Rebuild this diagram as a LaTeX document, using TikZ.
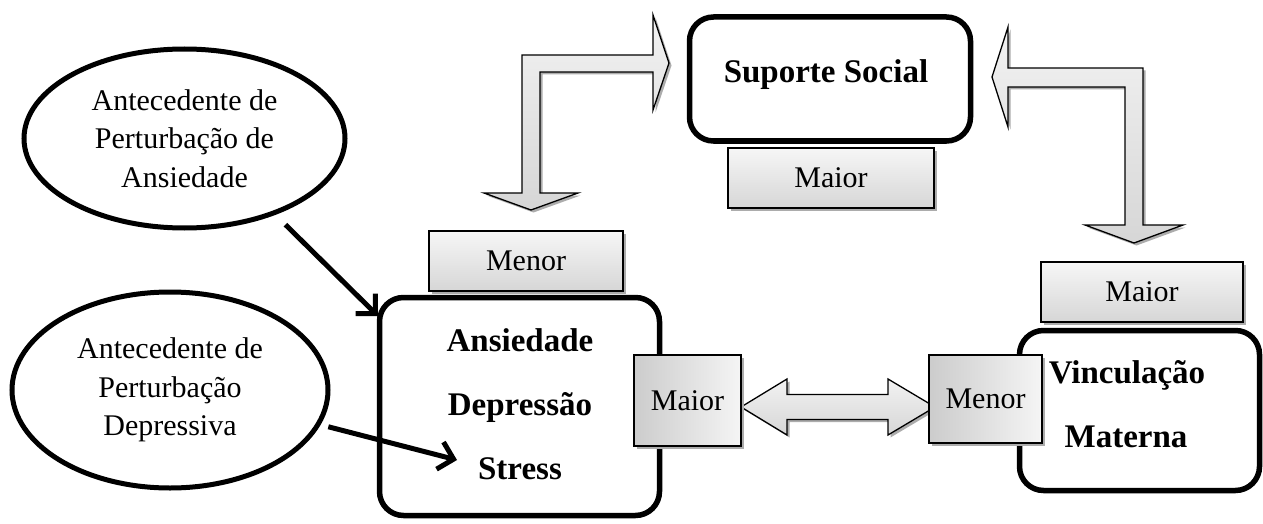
\documentclass[tikz,border=0pt]{standalone}
\usepackage{fontspec}
\setmainfont{Liberation Serif}
\usetikzlibrary{shapes.geometric,shadows,arrows.meta}

\newcommand\lblfont{\fontsize{30}{38.5}\selectfont}
\newcommand\keyfont{\bfseries\fontsize{33}{64}\selectfont}

\begin{document}
\begin{tikzpicture}[x=1pt,y=-1pt,
  bigbox/.style={draw, line width=5.5pt, rounded corners=24pt, fill=white, inner sep=0pt},
  tagshadow/.style={drop shadow={shadow xshift=2.5pt, shadow yshift=-2.5pt, fill=gray!65, opacity=1}},
  tagv/.style={draw, line width=1.3pt, top color=gray!7, bottom color=gray!32, tagshadow, inner sep=0pt, font=\lblfont},
  tagh/.style={draw, line width=1.3pt, left color=gray!40, right color=gray!8, tagshadow, inner sep=0pt, font=\lblfont},
  blockarrow/.style={draw, line width=1.3pt, line join=miter, top color=gray!10, bottom color=gray!32, tagshadow},
  cause/.style={draw, ellipse, line width=5pt, inner sep=0pt, align=center, font=\lblfont},
  keytext/.style={anchor=base, font=\keyfont, inner sep=0pt},
  link/.style={line width=5pt, -{Straight Barb[length=14pt,width=28pt]}}
]
\useasboundingbox (0,0) rectangle (1263,524);

% block arrows between the main factors
\draw[blockarrow] (522,193) -- (522,55) -- (653,55) -- (653,15) -- (669,63)
  -- (653,110) -- (653,72) -- (540,72) -- (540,193) -- (578,193) -- (531,210)
  -- (484,193) -- cycle;
\draw[blockarrow] (1008,68) -- (1143,68) -- (1143,225) -- (1183,225) -- (1134,243)
  -- (1085,225) -- (1125,225) -- (1125,87) -- (1008,87) -- (1008,127) -- (992,77)
  -- (1008,27) -- cycle;
\draw[blockarrow] (741,407) -- (787,379) -- (787,394.5) -- (888,394.5) -- (888,379)
  -- (935,407) -- (888,435) -- (888,419.5) -- (787,419.5) -- (787,435) -- cycle;

% main factor boxes
\node[bigbox, minimum width=281pt, minimum height=124pt] (sup) at (830,79) {};
\node[anchor=base, font=\keyfont, inner sep=0pt] (suptext) at (826,83) {Suporte Social};

\node[bigbox, minimum width=280pt, minimum height=218pt] (ans) at (519.5,406.5) {};
\node[keytext] (ansl1) at (520,351) {Ansiedade};
\node[keytext] (ansl2) at (520,415) {Depressão};
\node[keytext] (ansl3) at (520,479) {Stress};

\node[bigbox, minimum width=240pt, minimum height=160pt] (vin) at (1139.5,410.5) {};
\node[keytext] (vinl1) at (1127,383) {Vinculação};
\node[keytext] (vinl2) at (1126,447) {Materna};

% level tags
\node[tagv, minimum width=206pt, minimum height=60pt] (tagsup) at (831,178) {Maior};
\node[tagv, minimum width=194pt, minimum height=60pt] (tagans) at (526,261) {Menor};
\node[tagv, minimum width=202pt, minimum height=60pt] (tagvin) at (1142,292) {Maior};
\node[tagh, minimum width=107pt, minimum height=91pt] (tagansr) at (687.5,400.5) {Maior};
\node[tagh, minimum width=113pt, minimum height=88pt] (tagvinl) at (985.5,399) {Menor};

% antecedents
\node[cause, minimum width=321pt, minimum height=179pt] (e1) at (184.5,138.5)
  {Antecedente de\\Perturbação de\\Ansiedade};
\node[cause, minimum width=316pt, minimum height=196pt] (e2) at (170,390)
  {Antecedente de\\Perturbação\\Depressiva};

\coordinate (t1) at (378,316);
\coordinate (t2) at (457,460);
\draw[link, shorten <=14pt] (e1.-40) -- (t1);
\draw[link, shorten <=8pt] (e2.-13) -- (t2);
\end{tikzpicture}
\end{document}
